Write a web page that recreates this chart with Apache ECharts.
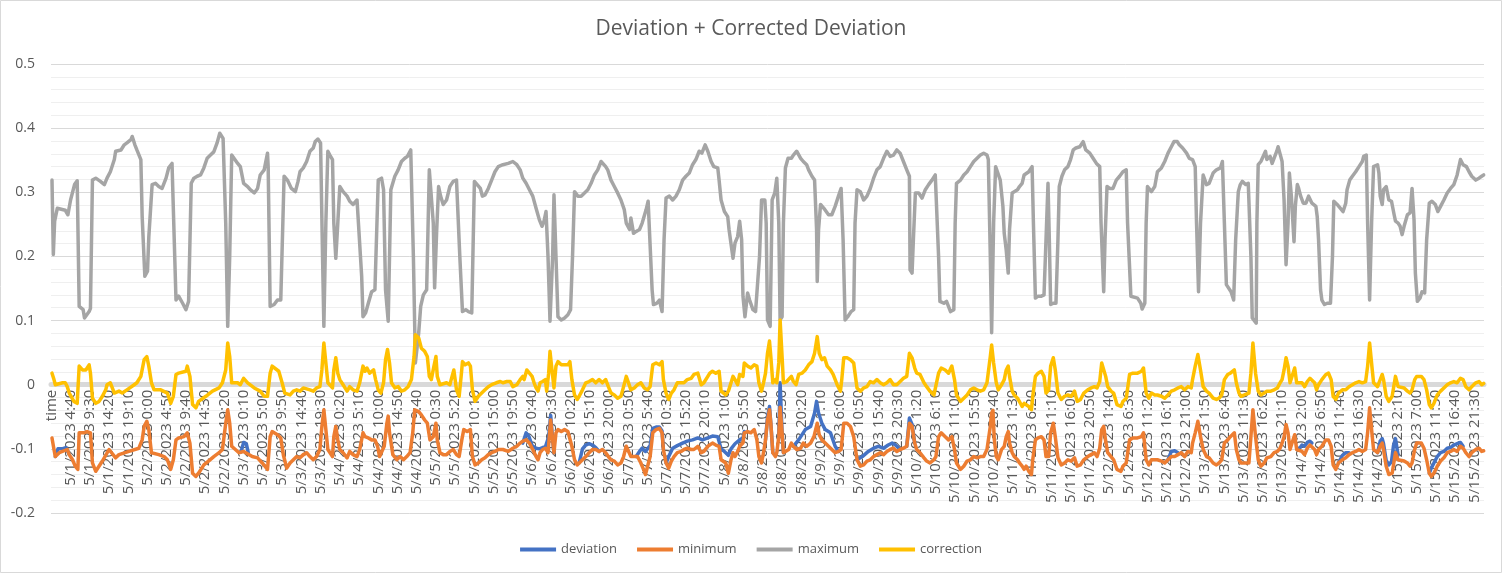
<!DOCTYPE html>
<html>
<head>
<meta charset="utf-8">
<title>Deviation + Corrected Deviation</title>
<script src="https://cdn.jsdelivr.net/npm/echarts@6/dist/echarts.min.js"></script>
<style>
  html, body { margin: 0; padding: 0; background: #fff; }
  #chart { width: 1502px; height: 573px; }
</style>
</head>
<body>
<div id="chart"></div>
<script>
// category labels: a "time" header row, then 10 minute steps from 5/1/2023 0:00
var startMonth = 5, startDay = 1, startYear = 2023;
var stepMinutes = 10, pointCount = 2160;

// series values as [hours since 5/1 0:00, value]
var maximum = [
  [0,0.319],[0.3,0.203],[0.7,0.255],[1.3,0.275],[3.4,0.272],[4.0,0.265],[4.7,0.288],[5.7,0.312],[6.4,0.318],[6.8,0.122],
  [7.9,0.117],[8.2,0.104],[9.3,0.114],[9.6,0.119],[10.1,0.319],[11,0.322],[12.2,0.317],[13.1,0.312],[13.9,0.322],[14.7,0.332],
  [15.6,0.351],[16,0.364],[17.3,0.366],[18.1,0.374],[18.9,0.377],[19.8,0.382],[20.2,0.387],[20.8,0.374],[21.4,0.366],[22.3,0.351],
  [22.7,0.262],[23.3,0.169],[24,0.177],[24.4,0.23],[25.2,0.312],[26,0.314],[26.9,0.309],[27.7,0.306],[28.1,0.309],[28.6,0.322],
  [29.4,0.338],[30.2,0.345],[31.1,0.132],[31.9,0.138],[32.8,0.127],[33.6,0.117],[34.4,0.130],[35,0.314],[35.7,0.322],[36.5,0.325],
  [37.4,0.327],[38.2,0.338],[39,0.353],[39.9,0.358],[40.7,0.363],[41.5,0.377],[42.2,0.392],[43,0.384],[43.6,0.252],[44.2,0.091],
  [44.7,0.2],[45.1,0.358],[45.7,0.356],[46.7,0.345],[47.4,0.340],[48.2,0.314],[49.1,0.309],[49.9,0.304],[50.8,0.299],[51.6,0.306],
  [52.4,0.327],[53.3,0.335],[54.1,0.361],[54.4,0.340],[54.9,0.122],[55.8,0.125],[56.6,0.132],[57.5,0.132],[58.3,0.325],[59.1,0.319],
  [59.4,0.317],[60.2,0.306],[61.1,0.301],[61.5,0.303],[61.9,0.317],[62.3,0.332],[63.2,0.338],[64,0.348],[64.8,0.364],[65.7,0.369],
  [66.1,0.379],[66.9,0.383],[67.5,0.377],[68,0.2],[68.4,0.091],[68.9,0.252],[69.3,0.364],[69.9,0.358],[70.5,0.351],[70.9,0.252],
  [71.4,0.197],[71.8,0.252],[72.4,0.309],[73.2,0.301],[74.1,0.294],[74.9,0.286],[75.7,0.281],[76.6,0.288],[77.2,0.291],[77.8,0.169],
  [78.2,0.106],[78.9,0.112],[79.5,0.127],[80.3,0.145],[81.2,0.148],[82,0.319],[82.8,0.322],[83.3,0.304],[83.9,0.148],[84.5,0.099],
  [84.9,0.2],[85.2,0.304],[86.2,0.325],[87,0.335],[87.9,0.348],[88.7,0.353],[89.3,0.356],[90.1,0.366],[90.8,0.2],[91.4,0.034],
  [92.1,0.081],[92.6,0.122],[93.3,0.140],[94.2,0.148],[94.8,0.335],[95.2,0.336],[95.8,0.252],[96.2,0.151],[96.7,0.237],[97.1,0.309],
  [97.7,0.294],[98.3,0.281],[99.2,0.288],[100,0.309],[100.9,0.317],[101.7,0.319],[102.5,0.2],[103.2,0.114],[104,0.117],[104.6,0.114],
  [105.5,0.112],[106.1,0.317],[106.7,0.319],[107.6,0.306],[108.2,0.294],[108.8,0.296],[109.6,0.306],[110.5,0.319],[111.3,0.332],[112.2,0.340],
  [113.4,0.343],[114.7,0.345],[115.9,0.348],[116.8,0.343],[117.6,0.335],[118.4,0.322],
  [119.1,0.314],[120,0.304],[120.8,0.294],[121.6,0.275],[122.5,0.257],[123.1,0.247],[123.7,0.255],[124.1,0.270],[124.6,0.2],[125.2,0.099],
  [125.8,0.2],[126.2,0.296],[126.7,0.2],[127.1,0.106],[128,0.101],[128.8,0.104],[129.6,0.109],[130.4,0.117],[130.9,0.2],[131.3,0.301],
  [132.1,0.294],[133,0.294],[133.8,0.299],[134.6,0.304],[135.5,0.314],[136.3,0.327],[137.1,0.335],[138,0.348],[138.4,0.351],[139.1,0.340],
  [139.6,0.335],[140.5,0.319],[141.3,0.309],[142.2,0.299],[143,0.288],[143.8,0.273],[144.3,0.252],[145.1,0.242],[145.5,0.260],[146.1,0.236],
  [146.8,0.239],[147.6,0.242],[148.4,0.252],[149.3,0.273],[149.9,0.286],[150.4,0.286],[150.8,0.148],[151.1,0.125],[152,0.127],[152.6,0.132],
  [153.3,0.114],[153.9,0.226],[154.3,0.291],[155.1,0.294],[156,0.288],[156.8,0.294],[157.7,0.304],[158.5,0.319],[159.3,0.325],[160.2,0.330],
  [161,0.343],[161.8,0.351],[162.7,0.364],[163.3,0.361],[164.1,0.374],[164.8,0.364],[165.6,0.348],[166.4,0.340],[167.3,0.338],[167.7,0.319],
  [168.1,0.288],[169,0.270],[169.8,0.262],[170.2,0.242],[171.1,0.197],[171.7,0.221],[172.3,0.231],[172.9,0.255],[173.3,0.226],[173.7,0.138],
  [174.2,0.106],[174.8,0.143],[175.4,0.132],[176.1,0.117],[176.9,0.114],
  [177.4,0.114],[177.8,0.200],[178.3,0.288],[179.1,0.288],[179.5,0.252],[179.9,0.101],[180.5,0.091],[181,0.288],[181.6,0.299],[182.2,0.322],
  [182.6,0.252],[183,0.101],[183.5,0.106],[183.9,0.252],[184.3,0.338],[185,0.353],[185.8,0.353],[186.4,0.358],[187.2,0.364],[188.1,0.353],
  [188.9,0.348],[189.7,0.343],[190.2,0.335],[191,0.325],[191.7,0.319],[192.1,0.242],[192.3,0.161],[192.7,0.242],[193.1,0.281],[194,0.275],
  [194.5,0.273],[195.2,0.265],[196,0.265],[196.9,0.278],[197.7,0.294],[198.4,0.306],[198.8,0.226],[199.4,0.101],[200,0.106],[200.9,0.114],
  [201.5,0.117],[201.9,0.252],[202.3,0.304],[203.1,0.301],[204,0.288],[204.8,0.294],[205.7,0.306],[206.5,0.322],[207.3,0.335],[208.2,0.340],
  [209,0.353],[209.8,0.364],[210.7,0.356],[211.5,0.358],[212.4,0.366],[213.2,0.361],[214,0.348],[214.9,0.335],[215.5,0.325],[215.7,0.179],
  [216.1,0.174],[216.5,0.226],[217,0.299],[217.8,0.299],[218.6,0.291],[219.5,0.304],[220.3,0.312],[221.1,0.319],[222,0.327],[222.4,0.330],
  [222.8,0.2],[223.2,0.130],[224.1,0.127],[224.9,0.130],[225.3,0.127],[225.8,0.114],[226.6,0.117],[227,0.252],[227.4,0.314],[228.3,0.319],
  [229.1,0.327],[230,0.332],[230.8,0.340],[231.6,0.348],[232.5,0.353],[233.3,0.358],[234.1,0.361],[235,0.358],[235.4,0.351],[235.8,0.2],
  [236.2,0.081],[236.6,0.252],[237.1,0.340],
  [237.7,0.343],[238.4,0.319],[239,0.278],[239.4,0.236],[239.8,0.210],[240.3,0.174],[240.7,0.242],[241.3,0.299],[241.9,0.299],[242.6,0.304],
  [243.2,0.309],[243.8,0.314],[244.3,0.327],[244.9,0.327],[245.5,0.332],[246.3,0.340],[246.7,0.252],[247.2,0.135],[247.8,0.138],[248.6,0.138],
  [249.3,0.140],[249.9,0.226],[250.3,0.314],[250.7,0.226],[251,0.125],[251.6,0.127],[252.4,0.127],[252.8,0.226],[253.2,0.309],[253.8,0.325],
  [254.5,0.335],[255.3,0.340],[256,0.351],[256.6,0.366],[257.4,0.369],[258.3,0.371],[259.1,0.379],[259.9,0.366],[260.8,0.361],[261.6,0.353],
  [262.5,0.345],[263.3,0.340],[263.7,0.252],[264.3,0.145],[264.7,0.226],[265.2,0.309],[265.8,0.306],[266.6,0.306],[267.5,0.319],[268.3,0.325],
  [269.2,0.332],[270,0.335],[270.4,0.252],[271.1,0.138],[271.7,0.138],[272.9,0.135],[273.6,0.127],[274,0.118],[274.6,0.127],[275,0.252],
  [275.4,0.309],[276.3,0.301],[277.1,0.309],[277.9,0.332],[278.8,0.338],[279.6,0.348],[280.5,0.361],[281.3,0.371],[282,0.379],[282.8,0.379],
  [283.4,0.374],[284.2,0.369],[285.1,0.361],[285.9,0.353],[286.7,0.351],[287.3,0.340],[287.6,0.252],[288.2,0.145],[288.7,0.252],[289.3,0.327],
  [290.1,0.312],[290.9,0.314],[291.8,0.330],[292.6,0.335],[293.7,0.338],[294.1,0.348],[294.7,0.252],[295.1,0.156],[295.7,0.153],[296.4,0.145],
  [297,0.132],[297.5,0.226],[298.1,0.301],[298.7,0.312],[299.1,0.317],[300,0.312],[300.6,0.314],[301.1,0.314],[301.4,0.2],[301.7,0.104],
  [302.2,0.101],[302.6,0.096],[302.9,0.252],[303.2,0.343],[303.8,0.348],[304.4,0.348],[305,0.364],[305.4,0.351],[306.1,0.356],[306.7,0.345],
  [307.3,0.356],[307.8,0.364],[308.2,0.371],[308.8,0.356],[309.2,0.348],[309.6,0.288],[310.2,0.187],[310.6,0.252],[311,0.330],[311.5,0.294],
  [312.1,0.223],[312.5,0.278],[313,0.312],[313.4,0.306],[313.8,0.294],[314.5,0.283],[315.1,0.283],[315.9,0.294],[316.7,0.283],[317.6,0.278],
  [318,0.262],[318.4,0.226],[318.8,0.148],[319.2,0.132],[319.8,0.125],[320.5,0.127],[321.3,0.127],[321.8,0.2],[322.2,0.286],[323,0.281],
  [323.9,0.275],[324.5,0.270],[325.1,0.283],[325.5,0.304],[326.2,0.319],[326.8,0.325],[327.6,0.332],[328.5,0.340],[329.3,0.348],[329.7,0.356],
  [330.4,0.358],[330.7,0.252],[331.2,0.132],[331.6,0.252],[332.2,0.340],[333.1,0.343],[333.5,0.330],[333.9,0.294],[334.3,0.281],[334.7,0.304],
  [335.4,0.309],[336,0.288],[336.6,0.286],[337.3,0.265],[337.7,0.255],[338.3,0.252],[338.9,0.247],[339.4,0.234],[339.9,0.247],[340.6,0.265],
  [341.3,0.268],[341.9,0.306],[342.3,0.257],[342.7,0.174],[343.1,0.130],[343.8,0.135],[344.4,0.145],[345,0.143],[345.5,0.226],[346.1,0.283],
  [346.9,0.286],[347.7,0.281],[348.3,0.270],[349,0.278],[349.8,0.288],[350.7,0.299],[351.5,0.306],[352.3,0.312],[353.2,0.327],[354,0.351],
  [354.7,0.343],[355.5,0.340],[356.1,0.332],[356.9,0.325],[357.8,0.319],[358.6,0.322],[359.4,0.325],[359.8,0.327]
];

var correction = [
  [0,0.018],[0.5,0.008],[0.9,0],[1.3,-0.003],[2.6,0.003],[3.4,0.003],[3.9,-0.003],[4.3,-0.013],[5.5,-0.026],[6.4,-0.029],
  [6.8,0.029],[7.6,0.023],[8.5,0.023],[9.3,0.031],[9.7,0.018],[10.1,-0.021],[11,-0.029],[11.8,-0.026],[12.6,-0.018],[13.5,-0.008],
  [13.9,0],[14.7,0.003],[15.6,-0.013],[16.8,-0.010],[17.7,-0.013],[18.9,-0.008],[20.6,0],[21.4,0.003],[22.3,0.013],[23.1,0.039],
  [23.8,0.044],[24.4,0.029],[25,0.003],[25.6,-0.008],[27.3,-0.008],[29,-0.013],[29.8,-0.029],[30.5,-0.018],[31.1,0.016],[31.9,0.018],
  [33.6,0.021],[34,0.029],[34.7,0.013],[35.3,-0.031],[36.1,-0.036],[36.9,-0.026],[38.6,-0.018],[40.3,-0.010],[42,-0.005],[42.8,0.003],
  [43.6,0.023],[44.2,0.065],[44.7,0.044],[45.1,0.003],[46.6,0.003],[47.4,0],[48.2,0.010],[48.7,0.013],[49.1,0.003],[50.8,-0.005],
  [52.4,-0.010],[53.3,-0.018],[54.1,-0.018],[54.8,0.018],[55.4,0.029],[57,0.021],[57.9,0.003],[58.5,-0.013],
  [59,-0.013],[59.8,-0.016],[60.7,-0.010],[61.5,-0.008],[62.3,-0.010],[63.2,-0.005],[64.8,-0.008],[65.7,-0.010],[66.5,-0.005],[67.4,-0.003],
  [67.8,0.023],[68.4,0.065],[68.9,0.034],[69.3,0.003],[69.9,0.003],[70.5,-0.005],[70.9,0.023],[71.4,0.042],[71.8,0.018],[72.4,0.008],
  [73.2,0],[74.1,-0.010],[74.9,-0.003],[75.3,0],[75.7,-0.008],[76.6,-0.010],[77.4,0.003],[78.1,0.029],[78.7,0.021],[79.1,0.026],
  [79.9,0.018],[80.8,0.023],[81.4,0.008],[82,-0.008],[82.6,-0.013],[83.3,0.003],[83.9,0.039],[84.3,0.055],[84.8,0.034],[85.4,0.003],
  [86.2,-0.005],[87,-0.003],[87.9,-0.010],[88.7,-0.008],[89.5,-0.003],[90.4,0.008],[91,0.044],[91.4,0.078],[92.1,0.073],[92.9,0.057],
  [93.7,0.052],[94.3,0.044],[94.8,0.013],[95.4,0.008],[96,0.029],[96.5,0.044],[96.9,0.013],[97.5,0],[99.2,0.003],[100,0],
  [100.4,0.008],[101,0.023],[101.7,-0.008],[102.3,-0.018],[102.8,0.013],[103.2,0.036],[103.8,0.031],[104.6,0.034],[105.2,0.029],[105.7,-0.008],
  [106.3,-0.026],[107.1,-0.018],[108,-0.013],[108.8,-0.008],[109.6,-0.003],[110.5,0],[111.7,0.003],[112.6,0.005],[113.4,0.003],[114.3,0.005],
  [115.1,0.005],[115.9,-0.003],[116.8,0],[117.6,0.008],[118.3,0.013],
  [118.7,0.008],[119.3,0.023],[120,0.018],[120.6,0.013],[121.2,0.003],[121.6,-0.005],[122.1,-0.010],[122.6,0.003],[123.3,0.005],[124,0.008],
  [124.4,-0.010],[124.8,0.018],[125.2,0.052],[125.7,0.023],[126.1,-0.005],[126.7,0.029],[127.1,0.036],[128,0.031],[129.6,0.031],[130.2,0.036],
  [130.7,0.008],[131.3,-0.016],[132,-0.023],[132.5,-0.018],[133.4,-0.008],[134.2,0.003],[135,0.005],[135.9,0.008],[136.7,0.003],[137.5,0.008],
  [138.4,0.003],[139.2,0.008],[139.9,-0.003],[140.5,-0.013],[141.3,-0.016],[142.2,-0.021],[143,-0.018],[143.6,-0.003],[144.3,0.013],[144.9,0.016],
  [145.5,-0.008],[146.3,-0.005],[147.2,0],[148,0.003],[148.9,-0.005],[149.7,-0.008],[150.3,-0.003],[151,0.031],[151.8,0.034],[152.6,0.031],
  [153.3,0.036],[153.7,0.008],[154.3,-0.013],[155,-0.023],[155.6,-0.013],[156.4,-0.008],[157.2,0.003],[158.1,0.003],[158.9,0.003],[159.7,0.008],
  [160.6,0.010],[161.4,0.016],[162.3,0.018],[163.1,0],[163.9,0.003],[164.8,0.013],[165.4,0.018],[166,0.021],[166.9,0.018],[167.7,0.021],
  [168.1,-0.010],[168.7,-0.010],[169.4,-0.016],[170,-0.010],[170.6,0.003],[171.2,0.013],[171.7,0.008],[172.3,0],[172.9,0.016],[173.6,0.013],
  [174,0.034],[174.8,0.029],[175.7,0.026],[176.5,0.031],
  [176.8,0.034],[177.2,0.029],[177.6,0.003],[178.3,-0.010],[178.9,0.003],[179.4,0.018],[179.9,0.049],[180.3,0.068],[180.6,0.044],[181.1,0.003],
  [181.8,0.008],[182.2,0.003],[182.6,0.034],[183,0.101],[183.5,0.044],[183.9,0.003],[184.3,0],[184.7,0.005],[185.1,0.003],[185.8,0.013],
  [186.4,0.005],[187,0],[187.6,0.016],[188.5,0.018],[189.3,0.023],[190.2,0.031],[191,0.036],[191.7,0.049],[192.3,0.075],[192.8,0.049],
  [193.5,0.039],[194.2,0.042],[194.8,0.029],[195.6,0.023],[196.4,0.016],[197.3,0],[198.1,-0.010],[198.5,0.008],[199,0.042],[199.8,0.042],
  [200.6,0.039],[201.5,0.034],[201.9,0.018],[202.3,-0.005],[203.1,-0.010],[204,-0.005],[204.8,-0.003],[205.7,0.005],[206.5,0.003],[207.3,0.008],
  [208.2,0.003],[209,0],[209.8,0.003],[210.7,0.008],[211.5,0],[212.4,0],[213.2,0.005],[214,0.010],[214.9,0.013],[215.5,0.049],
  [216.1,0.042],[216.8,0.026],[217.4,0.018],[218.2,0.016],[219.1,0.003],[219.9,-0.003],[220.7,-0.010],[221.6,-0.016],[222.2,-0.013],[222.8,0.018],
  [223.5,0.026],[224.5,0.023],[225.3,0.018],[226.2,0.029],[226.8,0.008],[227.4,-0.016],[228.3,-0.026],[229.1,-0.021],[230,-0.016],[230.8,-0.008],
  [231.6,-0.005],[232.5,-0.008],[233.3,-0.010],[234.1,-0.008],[235,0.003],[235.8,0.044],[236.2,0.062],
  [236.7,0.034],[237.3,0.003],[237.9,-0.008],[238.6,0],[239.3,0.008],[239.8,0.023],[240.3,0.029],[240.7,0.013],[241.3,-0.010],[241.9,-0.016],
  [242.6,-0.021],[243.2,-0.023],[243.8,-0.034],[244.3,-0.029],[244.9,-0.026],[245.5,-0.034],[246.1,-0.039],[246.5,-0.018],[247.1,0.013],[247.8,0.018],
  [248.6,0.021],[249.3,0.013],[249.9,-0.013],[250.5,-0.008],[251,0.029],[251.6,0.042],[252.2,0.023],[252.8,-0.013],[253.7,-0.023],[254.5,-0.018],
  [255.3,-0.016],[256.2,-0.018],[257,-0.010],[257.7,-0.026],[258.5,-0.023],[259.4,-0.013],[260.4,-0.008],[261.2,-0.005],[262,-0.003],[262.7,-0.005],
  [263.3,0.005],[263.9,0.034],[264.3,0.036],[264.8,0.013],[265.4,-0.003],[266.2,-0.010],[266.9,-0.013],[267.7,-0.031],[268.6,-0.034],[269.2,-0.026],
  [270,-0.021],[270.8,0.016],[271.7,0.018],[272.9,0.018],[273.8,0.021],[274.4,0.026],[275,-0.013],[275.6,-0.021],[276.3,-0.013],[277.1,-0.016],
  [277.9,-0.016],[278.8,-0.018],[279.6,-0.021],[280.5,-0.016],[281.3,-0.010],[282.1,-0.008],[283,-0.005],[283.8,-0.003],[284.6,-0.008],[285.5,-0.003],
  [286.3,-0.005],[286.7,0.008],[287.3,0.029],[288,0.047],[288.7,0.023],[289.3,-0.003],[290.1,-0.010],[290.9,-0.013],[291.8,-0.021],[292.6,-0.023],
  [293.4,-0.021],[294,-0.016],[294.7,0.008],[295.5,0.016],[296.2,0.018],
  [296.6,0.021],[297.2,0.023],[297.7,0.003],[298.3,-0.013],[298.9,-0.018],[299.6,-0.016],[300.2,-0.016],[300.8,-0.013],[301.4,0.018],[301.9,0.065],
  [302.5,0.018],[303.1,-0.010],[303.8,-0.016],[304.6,-0.013],[305.4,-0.010],[306.3,-0.010],[307.1,-0.008],[308,-0.005],[308.6,0.003],[309.2,0.008],
  [309.6,0.023],[310.2,0.042],[310.6,0.029],[311.1,0.003],[311.7,0.013],[312.3,0.026],[312.8,0.003],[313.4,0.005],[314.2,0.003],[314.8,-0.003],
  [315.5,0.005],[316.2,0.010],[316.7,0.013],[317.3,0.003],[317.8,-0.008],[318.4,0],[319.2,0.008],[320.1,0.016],[320.9,0.018],[321.5,0.008],
  [322,-0.018],[322.6,-0.023],[323.4,-0.013],[324.3,-0.008],[325.1,-0.008],[326,-0.003],[326.8,0],[327.6,0.003],[328.5,0.005],[329.3,0.003],
  [330.1,0.005],[330.7,0.029],[331.2,0.065],[331.8,0.023],[332.2,0.003],[333.1,-0.003],[333.9,0.008],[334.3,0.016],[334.7,0.008],[335.4,-0.018],
  [336,-0.026],[336.8,-0.018],[337.7,0.013],[338.3,-0.003],[338.9,-0.003],[339.8,-0.005],[340.6,-0.010],[341.3,-0.013],[341.9,-0.008],[342.5,0.008],
  [343,0.013],[343.5,0.016],[344.1,0.013],[344.8,0.008],[345.5,-0.008],[346.1,-0.031],[346.6,-0.036],[347.3,-0.029],[348.1,-0.016],[349,-0.010],
  [349.8,-0.005],[350.7,0],[351.5,0.003],[352.3,0.005],[353.2,0.003],[354,0.010],[354.7,0.008],[355.3,-0.003],[356.1,-0.008],[356.9,-0.003],
  [357.8,0.003],[358.6,0.005],[359.4,0],[359.8,0.002]
];

var minimum = [
  [0,-0.083],[0.5,-0.101],[0.9,-0.112],[1.8,-0.106],[3.9,-0.101],[4.3,-0.109],[5.1,-0.117],[5.9,-0.127],[6.5,-0.132],[6.8,-0.075],
  [8,-0.075],[8.9,-0.073],[9.7,-0.075],[10.1,-0.122],[11,-0.135],[12.6,-0.119],[14.3,-0.101],[16,-0.114],[16.8,-0.109],[19.4,-0.104],
  [21.9,-0.099],[22.7,-0.086],[23.1,-0.065],[23.8,-0.057],[24.4,-0.070],[25,-0.106],[26.9,-0.109],[28.1,-0.112],[29,-0.117],[29.8,-0.132],
  [30.5,-0.117],[31.1,-0.086],[31.9,-0.083],[33.2,-0.081],[34,-0.075],[34.7,-0.091],[35.3,-0.138],[36.1,-0.143],[36.9,-0.138],[38.2,-0.125],
  [39.4,-0.119],[40.7,-0.112],[42,-0.106],[42.8,-0.101],[43.6,-0.060],[44.2,-0.039],[44.7,-0.060],[45.1,-0.096],[47,-0.106],[48.2,-0.104],
  [50.3,-0.112],[51.6,-0.114],[52.8,-0.122],[54.1,-0.132],[54.8,-0.081],[55.4,-0.073],[56.6,-0.078],[57.5,-0.083],[58.1,-0.110],
  [59,-0.130],[59.8,-0.122],[60.7,-0.117],[61.5,-0.112],[62.3,-0.114],[63.2,-0.109],[64,-0.106],[64.8,-0.112],[65.7,-0.117],[66.5,-0.112],
  [67.4,-0.101],[67.8,-0.065],[68.4,-0.039],[68.9,-0.070],[69.3,-0.101],[69.9,-0.104],[70.5,-0.112],[70.9,-0.081],[71.4,-0.065],[71.8,-0.086],
  [72.4,-0.101],[73.2,-0.106],[74.1,-0.114],[74.9,-0.104],[75.7,-0.109],[76.6,-0.112],[77.4,-0.101],[78.1,-0.075],[78.7,-0.081],[79.5,-0.083],
  [80.3,-0.086],[81.2,-0.086],[81.8,-0.096],[82.4,-0.112],[82.9,-0.114],[83.5,-0.096],[84.1,-0.060],[84.5,-0.049],[84.9,-0.075],[85.6,-0.109],
  [86.6,-0.117],[87.5,-0.112],[88.3,-0.117],[89.1,-0.112],[90,-0.106],[90.6,-0.075],[91.2,-0.039],[92.1,-0.042],[92.9,-0.047],[93.7,-0.055],
  [94.3,-0.060],[95,-0.086],[95.8,-0.081],[96.5,-0.060],[96.9,-0.086],[97.5,-0.106],[98.3,-0.109],[99.2,-0.109],[100,-0.104],[100.9,-0.101],
  [101.7,-0.109],[102.3,-0.112],[103,-0.086],[103.5,-0.070],[104.4,-0.073],[105.2,-0.070],[105.7,-0.112],[106.3,-0.125],[107.1,-0.122],[108,-0.117],
  [108.8,-0.114],[109.6,-0.109],[110.5,-0.106],[111.3,-0.104],[112.2,-0.101],[113.4,-0.101],[114.7,-0.104],[115.9,-0.099],[116.8,-0.096],[117.6,-0.091],
  [118.3,-0.088],
  [119.1,-0.086],[120,-0.091],[120.8,-0.101],[121.6,-0.112],[122.1,-0.117],[122.6,-0.106],[123.3,-0.101],[124,-0.099],[124.6,-0.106],[125,-0.081],
  [125.4,-0.055],[125.8,-0.086],[126.2,-0.106],[126.7,-0.075],[127.1,-0.070],[128,-0.073],[128.8,-0.070],[129.6,-0.073],[130.2,-0.070],[130.7,-0.096],
  [131.3,-0.117],[132,-0.125],[132.5,-0.122],[133.4,-0.117],[134.2,-0.112],[135,-0.106],[135.9,-0.101],[136.7,-0.101],[137.5,-0.104],[138.4,-0.101],
  [139.2,-0.106],[139.9,-0.112],[140.5,-0.117],[141.3,-0.119],[142.2,-0.125],[143,-0.122],[143.6,-0.112],[144.3,-0.096],[144.9,-0.099],[145.5,-0.112],
  [146.3,-0.112],[147.2,-0.112],[148,-0.122],[148.6,-0.132],[149.1,-0.140],[149.7,-0.138],[150.3,-0.112],[151,-0.075],[151.8,-0.070],[152.6,-0.068],
  [153.3,-0.075],[153.7,-0.101],[154.3,-0.122],[155,-0.130],[155.6,-0.119],[156.4,-0.112],[157.2,-0.106],[158.1,-0.104],[158.9,-0.101],[159.7,-0.099],
  [160.6,-0.101],[161.4,-0.101],[162.3,-0.096],[163.1,-0.106],[163.9,-0.104],[164.8,-0.096],[165.4,-0.094],[166,-0.091],[166.9,-0.094],[167.7,-0.096],
  [168.1,-0.117],[168.7,-0.117],[169.4,-0.122],[170,-0.138],[170.6,-0.117],[171.2,-0.106],[171.7,-0.112],[172.3,-0.104],[172.9,-0.096],[173.6,-0.091],
  [174,-0.075],[174.8,-0.073],[175.7,-0.075],[176.5,-0.070],
  [176.8,-0.070],[177.2,-0.086],[177.6,-0.112],[178.3,-0.122],[178.9,-0.106],[179.4,-0.086],[179.9,-0.055],[180.3,-0.039],[180.6,-0.060],[181.1,-0.106],
  [181.8,-0.112],[182.2,-0.106],[182.6,-0.081],[183,-0.035],[183.5,-0.075],[183.9,-0.106],[184.3,-0.109],[185.1,-0.101],[185.8,-0.091],[186.4,-0.096],
  [187.2,-0.101],[188.1,-0.099],[188.9,-0.091],[189.7,-0.096],[190.6,-0.091],[191.5,-0.081],[192.3,-0.060],[192.8,-0.078],[193.5,-0.086],[194.3,-0.091],
  [195.2,-0.096],[196,-0.101],[196.9,-0.106],[197.7,-0.104],[198.4,-0.101],[199,-0.060],[199.8,-0.060],[200.6,-0.065],[201.5,-0.081],[202.3,-0.117],
  [203.1,-0.127],[204,-0.125],[204.8,-0.119],[205.7,-0.117],[206.5,-0.112],[207.3,-0.109],[208.2,-0.106],[209,-0.109],[209.8,-0.104],[210.7,-0.101],
  [211.5,-0.099],[212.4,-0.104],[213.2,-0.101],[214,-0.099],[214.9,-0.096],[215.5,-0.060],[216.1,-0.065],[216.8,-0.091],[217.4,-0.101],[218.2,-0.106],
  [219.1,-0.114],[219.9,-0.119],[220.7,-0.122],[221.6,-0.117],[222.2,-0.112],[222.8,-0.081],[223.5,-0.075],[224.5,-0.081],[225.3,-0.086],[226.2,-0.081],
  [226.8,-0.101],[227.4,-0.122],[228.3,-0.132],[229.1,-0.127],[230,-0.119],[230.8,-0.117],[231.6,-0.112],[232.5,-0.114],[233.3,-0.112],[234.1,-0.112],
  [235,-0.101],[235.8,-0.065],[236.2,-0.044],[236.5,-0.040],[236.9,-0.085],
  [237.3,-0.112],[237.9,-0.117],[238.6,-0.101],[239.3,-0.096],[239.8,-0.081],[240.3,-0.073],[240.7,-0.091],[241.3,-0.106],[241.9,-0.112],[242.6,-0.117],
  [243.2,-0.122],[243.8,-0.127],[244.3,-0.132],[244.9,-0.127],[245.5,-0.135],[246.1,-0.140],[246.5,-0.117],[247.1,-0.086],[247.8,-0.083],[248.6,-0.081],
  [249.3,-0.086],[249.9,-0.112],[250.5,-0.112],[251,-0.075],[251.6,-0.060],[252.2,-0.081],[252.8,-0.114],[253.7,-0.125],[254.5,-0.122],[255.3,-0.117],
  [256.2,-0.119],[257,-0.114],[257.7,-0.127],[258.5,-0.125],[259.4,-0.117],[260.4,-0.112],[261.2,-0.109],[262,-0.106],[262.7,-0.112],[263.3,-0.099],
  [263.9,-0.070],[264.3,-0.065],[264.8,-0.088],[265.4,-0.106],[266.2,-0.112],[266.9,-0.117],[267.7,-0.132],[268.6,-0.135],[269.2,-0.127],[270,-0.122],
  [270.8,-0.086],[271.7,-0.083],[272.9,-0.083],[273.8,-0.081],[274.4,-0.075],[275,-0.117],[275.6,-0.125],[276.3,-0.117],[277.1,-0.117],[277.9,-0.117],
  [278.8,-0.119],[279.6,-0.122],[280.5,-0.117],[281.3,-0.112],[282.1,-0.112],[283,-0.109],[283.8,-0.106],[284.6,-0.112],[285.5,-0.104],[286.3,-0.106],
  [286.7,-0.091],[287.3,-0.075],[288,-0.057],[288.7,-0.081],[289.3,-0.101],[290.1,-0.112],[290.9,-0.114],[291.8,-0.122],[292.6,-0.125],[293.4,-0.122],
  [294,-0.117],[294.7,-0.091],[295.5,-0.086],[296.2,-0.081],
  [296.6,-0.078],[297.2,-0.075],[297.7,-0.101],[298.3,-0.117],[298.9,-0.122],[299.6,-0.122],[300.2,-0.125],[300.8,-0.122],[301.4,-0.081],[301.9,-0.039],
  [302.5,-0.081],[303.1,-0.117],[303.8,-0.127],[304.6,-0.122],[305.4,-0.114],[306.3,-0.112],[307.1,-0.106],[308,-0.104],[308.6,-0.099],[309.2,-0.091],
  [309.6,-0.081],[310.2,-0.062],[310.6,-0.075],[311.1,-0.101],[311.7,-0.091],[312.3,-0.078],[312.8,-0.101],[313.4,-0.101],[314.2,-0.104],[314.8,-0.109],
  [315.5,-0.099],[316.2,-0.094],[316.7,-0.091],[317.3,-0.101],[317.8,-0.109],[318.4,-0.101],[319.2,-0.096],[320.1,-0.086],[320.9,-0.086],[321.5,-0.096],
  [322,-0.125],[322.6,-0.132],[323.4,-0.122],[324.3,-0.117],[325.1,-0.114],[326,-0.109],[326.8,-0.106],[327.6,-0.104],[328.5,-0.101],[329.3,-0.104],
  [330.1,-0.101],[330.7,-0.075],[331.2,-0.036],[331.8,-0.081],[332.2,-0.101],[333.1,-0.106],[333.9,-0.096],[334.3,-0.091],[334.7,-0.101],[335.4,-0.127],
  [336,-0.140],[336.8,-0.138],[337.7,-0.106],[338.3,-0.117],[338.9,-0.117],[339.8,-0.119],[340.6,-0.122],[341.3,-0.127],[341.9,-0.122],[342.5,-0.101],
  [343,-0.091],[343.5,-0.088],[344.1,-0.091],[344.8,-0.099],[345.5,-0.117],[346.1,-0.138],[346.6,-0.143],[347.3,-0.138],[348.1,-0.127],[349,-0.119],
  [349.8,-0.114],[350.7,-0.106],[351.5,-0.104],[352.3,-0.101],[353.2,-0.104],[354,-0.096],[354.7,-0.099],[355.3,-0.106],[356.1,-0.112],[356.9,-0.106],
  [357.8,-0.101],[358.6,-0.099],[359.4,-0.104],[359.8,-0.103]
];

// deviation lies under minimum almost everywhere; these are the stretches where it shows above it
var deviation = [
  [[0.9,-0.112],[1.5,-0.100],[2.5,-0.100],[3.5,-0.098],[4.3,-0.109]],
  [[47.5,-0.105],[48.2,-0.090],[48.8,-0.092],[49.3,-0.106]],
  [[118.3,-0.091],[119.1,-0.075],[119.8,-0.080],[120.6,-0.095],[121.6,-0.099],[122.5,-0.100],[123.3,-0.098],[124,-0.097],[124.8,-0.081],[125.3,-0.048],[125.8,-0.086],[126.2,-0.106]],
  [[132.5,-0.122],[133.4,-0.100],[134.2,-0.094],[135,-0.092],[135.9,-0.094],[136.7,-0.098],[137.5,-0.104]],
  [[146.8,-0.112],[147.6,-0.104],[148.4,-0.099],[149.1,-0.104],[149.7,-0.104],[150.3,-0.095],[151,-0.068],[151.8,-0.066],[152.6,-0.066],[153.3,-0.072],[153.7,-0.101]],
  [[154.3,-0.122],[155,-0.112],[156,-0.099],[157.2,-0.095],[158.5,-0.091],[159.7,-0.088],[161,-0.086],[162.3,-0.083],[163.5,-0.086],[164.8,-0.083],[166,-0.080],[167.3,-0.081],[168.1,-0.100],[169,-0.104],[170,-0.110],[170.6,-0.100],[171.7,-0.092],[172.9,-0.086],[173.6,-0.083],[174,-0.073]],
  [[179.4,-0.086],[179.9,-0.050],[180.3,-0.034],[180.6,-0.060],[181.1,-0.106]],
  [[182.6,-0.081],[183,0.003],[183.5,-0.075],[183.9,-0.106]],
  [[186.4,-0.096],[187.6,-0.086],[189.3,-0.070],[190.6,-0.065],[191.7,-0.044],[192.1,-0.026],[192.7,-0.044],[193.5,-0.060],[194.3,-0.070],[195.6,-0.075],[196.9,-0.096],[197.7,-0.104]],
  [[202.3,-0.117],[203.6,-0.112],[205.2,-0.104],[206.5,-0.099],[207.7,-0.096],[209,-0.099],[210.1,-0.094],[211.1,-0.091],[212,-0.094],[213.2,-0.101]],
  [[214.9,-0.096],[215.5,-0.052],[216.1,-0.062],[216.8,-0.091]],
  [[280.5,-0.117],[281.3,-0.104],[282.1,-0.103],[283,-0.106]],
  [[313.4,-0.101],[314.2,-0.094],[314.8,-0.096],[315.5,-0.090],[316.2,-0.088],[316.7,-0.091]],
  [[323.4,-0.122],[324.3,-0.110],[325.1,-0.106],[326,-0.106]],
  [[333.1,-0.106],[333.9,-0.088],[334.3,-0.084],[334.7,-0.092],[335.4,-0.118],[336,-0.125],[336.6,-0.120],[337.2,-0.095],[337.7,-0.084],[338.3,-0.110]],
  [[346.1,-0.138],[346.6,-0.130],[347.3,-0.122],[348.1,-0.112],[349,-0.106],[349.8,-0.104],[350.7,-0.099],[351.5,-0.098],[352.3,-0.094],[353.2,-0.092],[354,-0.090],[354.7,-0.096]]
];

// category labels
var categories = ['time'];
for (var i = 0; i < pointCount; i++) {
  var mins = i * stepMinutes;
  var day = startDay + Math.floor(mins / 1440);
  var hh = Math.floor((mins % 1440) / 60);
  var mm = mins % 60;
  categories.push(startMonth + '/' + day + '/' + startYear + ' ' + hh + ':' + (mm < 10 ? '0' : '') + mm);
}

// hours since start -> category index (index 0 is the "time" header)
function toIndex(h) { return 1 + Math.round(h * 60 / stepMinutes); }
function toData(pts) {
  return pts.map(function (p) { return [toIndex(p[0]), p[1]]; });
}
var devData = [];
deviation.forEach(function (seg) {
  seg.forEach(function (p) { devData.push([toIndex(p[0]), p[1]]); });
  devData.push([toIndex(seg[seg.length - 1][0]) + 1, '-']);
});

var font = 'Open Sans';
var textColor = '#595959';
var yMin = -0.2, yMax = 0.5;
var gridTop = 64, gridBottom = 60, chartHeight = 573;
// the category axis crosses the value axis at 0: lift it from the grid bottom to there
var zeroLift = (chartHeight - gridTop - gridBottom) * (0 - yMin) / (yMax - yMin);

function lineSeries(name, color, data) {
  return {
    name: name,
    type: 'line',
    data: data,
    z: 3,
    showSymbol: false,
    connectNulls: false,
    itemStyle: { color: color },
    lineStyle: { color: color, width: 3.5, join: 'round', cap: 'round' }
  };
}

var myChart = echarts.init(document.getElementById('chart'));
var option = {
  animation: false,
  backgroundColor: '#ffffff',
  title: {
    text: 'Deviation + Corrected Deviation',
    left: 'center',
    top: 14,
    textStyle: { color: textColor, fontSize: 21, fontWeight: 'normal', fontFamily: font }
  },
  legend: {
    top: 538,
    left: 'center',
    icon: 'rect',
    itemWidth: 36,
    itemHeight: 4,
    itemGap: 20,
    data: ['deviation', 'minimum', 'maximum', 'correction'],
    textStyle: { color: textColor, fontSize: 13, fontFamily: font }
  },
  graphic: [{
    type: 'rect',
    shape: { x: 0.5, y: 0.5, width: 1501, height: 572 },
    style: { fill: 'none', stroke: '#d9d9d9', lineWidth: 1 },
    silent: true
  }],
  grid: { left: 51, right: 18, top: gridTop, bottom: gridBottom, containLabel: false, outerBoundsMode: 'none' },
  xAxis: {
    type: 'category',
    data: categories,
    boundaryGap: true,
    position: 'bottom',
    offset: -zeroLift,
    z: 1,
    axisLine: { onZero: false, lineStyle: { color: '#d9d9d9', width: 5 } },
    axisTick: { show: false },
    axisLabel: { interval: 28, rotate: 90, color: textColor, fontSize: 15, fontFamily: font, margin: 5 },
    splitLine: { show: false }
  },
  yAxis: {
    type: 'value',
    min: yMin,
    max: yMax,
    interval: 0.1,
    axisLine: { show: false },
    axisTick: { show: false },
    axisLabel: {
      color: textColor, fontSize: 14, fontFamily: font, margin: 16,
      formatter: function (v) { return String(Math.round(v * 10) / 10); }
    },
    splitLine: { lineStyle: { color: '#d9d9d9', width: 1 } },
    minorTick: { show: false, splitNumber: 5 },
    minorSplitLine: { show: true, lineStyle: { color: '#efefef', width: 1 } }
  },
  series: [
    lineSeries('deviation', '#4472C4', devData),
    lineSeries('minimum', '#ED7D31', toData(minimum)),
    lineSeries('maximum', '#A5A5A5', toData(maximum)),
    lineSeries('correction', '#FFC000', toData(correction))
  ]
};
myChart.setOption(option);
</script>
</body>
</html>
